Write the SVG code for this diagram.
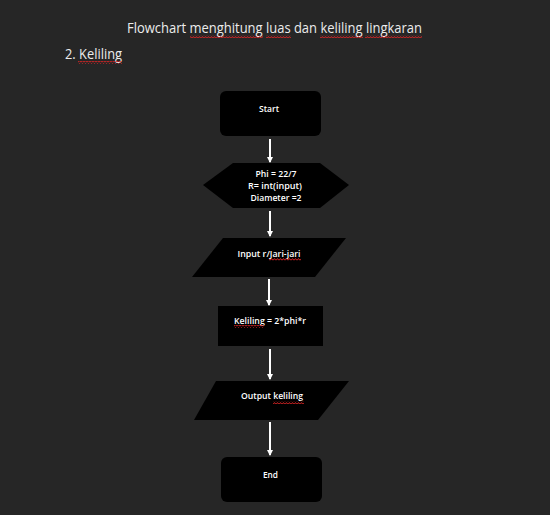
<svg xmlns="http://www.w3.org/2000/svg" width="550" height="515" viewBox="0 0 550 515">
<defs>
<style>
.t{font-family:"Open Sans","Liberation Sans",sans-serif;fill:#ffffff;}
.h{font-size:14px;fill:#ececec;}
.n{font-size:9px;font-weight:600;text-anchor:middle;}
.shape{fill:#000000;}
.c{stroke:#ffffff;stroke-width:2;fill:none;}
</style>
<marker id="ah" viewBox="0 0 6 6" refX="5" refY="3" markerWidth="3" markerHeight="3" orient="auto" markerUnits="strokeWidth">
<path d="M0,0 L6,3 L0,6 Z" fill="#ffffff"/>
</marker>
<pattern id="sq" x="0" y="0" width="3" height="3" patternUnits="userSpaceOnUse">
<path d="M0,2.4 L1.5,0.6 L3,2.4" stroke="#e02424" stroke-width="1" fill="none"/>
</pattern>
</defs>
<rect width="550" height="515" fill="#262626"/>
<g id="title">
<text class="t h" x="127" y="33" textLength="295" lengthAdjust="spacingAndGlyphs">Flowchart menghitung luas dan keliling lingkaran</text>
<rect x="190" y="35" width="73" height="3" fill="url(#sq)"/>
<rect x="266" y="35" width="25" height="3" fill="url(#sq)"/>
<rect x="320" y="35" width="43" height="3" fill="url(#sq)"/>
<rect x="365" y="35" width="57" height="3" fill="url(#sq)"/>
</g>
<g id="heading">
<text class="t h" x="65" y="59" textLength="57" lengthAdjust="spacingAndGlyphs">2. Keliling</text>
<rect x="78" y="61" width="44" height="3" fill="url(#sq)"/>
</g>
<g id="connectors">
<line class="c" x1="270" y1="139" x2="270" y2="162" marker-end="url(#ah)"/>
<line class="c" x1="270" y1="211" x2="270" y2="236" marker-end="url(#ah)"/>
<line class="c" x1="269" y1="279" x2="269" y2="305" marker-end="url(#ah)"/>
<line class="c" x1="270" y1="349" x2="270" y2="379" marker-end="url(#ah)"/>
<line class="c" x1="270" y1="422" x2="270" y2="455" marker-end="url(#ah)"/>
</g>
<g id="start">
<rect class="shape" x="220" y="91" width="101" height="45" rx="6"/>
<text class="t n" x="269" y="112" textLength="20" lengthAdjust="spacingAndGlyphs">Start</text>
</g>
<g id="init">
<polygon class="shape" points="203,185 233,163 320,163 349,185 320,208 233,208"/>
<text class="t n" x="276" y="177" textLength="41" lengthAdjust="spacingAndGlyphs">Phi = 22/7</text>
<text class="t n" x="275" y="189" textLength="54" lengthAdjust="spacingAndGlyphs">R= int(input)</text>
<text class="t n" x="276" y="201" textLength="51" lengthAdjust="spacingAndGlyphs">Diameter =2</text>
</g>
<g id="input">
<polygon class="shape" points="223,238 346,238 315,277 192,277"/>
<text class="t n" x="269" y="257" textLength="63" lengthAdjust="spacingAndGlyphs">Input r/Jari-jari</text>
<rect x="269" y="258" width="32" height="3" fill="url(#sq)"/>
</g>
<g id="process">
<rect class="shape" x="218" y="306" width="105" height="40"/>
<text class="t n" x="270" y="324" textLength="72" lengthAdjust="spacingAndGlyphs">Keliling = 2*phi*r</text>
<rect x="234" y="325" width="30" height="3" fill="url(#sq)"/>
</g>
<g id="output">
<polygon class="shape" points="216,381 349,381 318,420 194,420"/>
<text class="t n" x="272" y="399" textLength="62" lengthAdjust="spacingAndGlyphs">Output keliling</text>
<rect x="273" y="401" width="31" height="3" fill="url(#sq)"/>
</g>
<g id="end">
<rect class="shape" x="221" y="457" width="101" height="45" rx="6"/>
<text class="t n" x="270.5" y="478" textLength="15" lengthAdjust="spacingAndGlyphs">End</text>
</g>
</svg>
